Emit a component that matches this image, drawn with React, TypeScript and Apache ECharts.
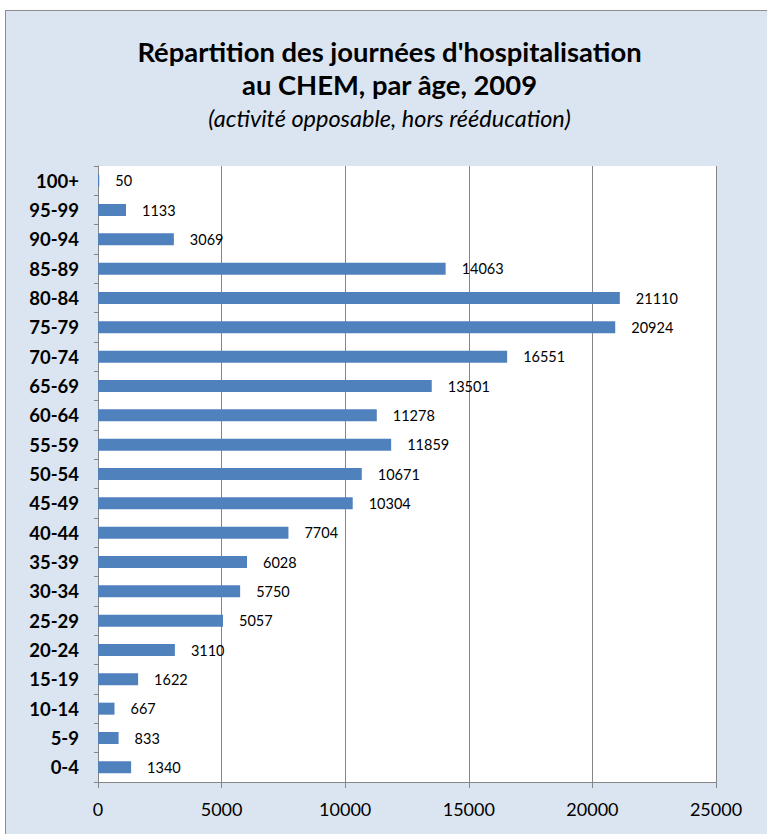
import React, { useEffect, useRef } from "react";
import * as echarts from "echarts";

const categories = [
  "0-4", "5-9", "10-14", "15-19", "20-24", "25-29", "30-34", "35-39", "40-44",
  "45-49", "50-54", "55-59", "60-64", "65-69", "70-74", "75-79", "80-84",
  "85-89", "90-94", "95-99", "100+",
];
const values = [
  1340, 833, 667, 1622, 3110, 5057, 5750, 6028, 7704, 10304, 10671, 11859,
  11278, 13501, 16551, 20924, 21110, 14063, 3069, 1133, 50,
];
const titleLine1 = "Répartition des journées d'hospitalisation";
const titleLine2 = "au CHEM, par âge, 2009";
const subtitle = "(activité opposable, hors rééducation)";
const xMin = 0;
const xMax = 25000;
const xInterval = 5000;

const FONT = "Lato, 'Open Sans', sans-serif";
const W = 780;
const H = 840;

export default function App() {
  const ref = useRef<HTMLDivElement>(null);
  useEffect(() => {
    document.body.style.overflow = "hidden";
    const chart = echarts.init(ref.current!, null, { renderer: "svg", width: W, height: H });
    chart.setOption({
      animation: false,
      backgroundColor: "transparent",
      graphic: [
        {
          type: "text", x: 383.5, y: 40,
          style: { text: titleLine1, fontFamily: FONT, fontWeight: "bold", fontSize: 27.4, fill: "#000", align: "center", verticalAlign: "middle" },
        },
        {
          type: "text", x: 383.5, y: 73.5,
          style: { text: titleLine2, fontFamily: FONT, fontWeight: "bold", fontSize: 27.4, fill: "#000", align: "center", verticalAlign: "middle" },
        },
        {
          type: "text", x: 383.5, y: 107,
          style: { text: subtitle, fontFamily: FONT, fontStyle: "italic", fontSize: 23.5, fill: "#000", align: "center", verticalAlign: "middle" },
        },
      ],
      grid: {
        left: 92, right: 70, top: 155, bottom: 69,
        show: true, backgroundColor: "#ffffff", borderWidth: 0,
      },
      xAxis: {
        type: "value", min: xMin, max: xMax, interval: xInterval,
        axisLine: { show: true, lineStyle: { color: "#868686", width: 1 } },
        axisTick: { show: true, length: 6, lineStyle: { color: "#868686" } },
        splitLine: { show: true, lineStyle: { color: "#868686", width: 1 } },
        axisLabel: {
          fontFamily: FONT, fontSize: 18, color: "#000", margin: 18,
          formatter: (v: number) => String(v),
        },
      },
      yAxis: {
        type: "category", data: categories,
        axisLine: { show: true, lineStyle: { color: "#868686", width: 1 } },
        axisTick: { show: true, length: 4, alignWithLabel: false, lineStyle: { color: "#868686" } },
        splitLine: { show: false },
        axisLabel: { fontFamily: FONT, fontWeight: "bold", fontSize: 18.5, color: "#000", margin: 19 },
      },
      series: [
        {
          type: "bar", data: values, barWidth: 12,
          itemStyle: { color: "#4f81bd" },
          label: { show: true, position: "right", distance: 16, fontFamily: FONT, fontSize: 14.5, color: "#000" },
        },
      ],
    });
    return () => chart.dispose();
  }, []);
  return (
    <div
      style={{
        position: "fixed", left: 5, top: 10, width: W, height: H,
        border: "1px solid #8c8c8c", background: "#dbe5f1", overflow: "hidden",
      }}
    >
      <div ref={ref} style={{ width: W, height: H }} />
    </div>
  );
}
